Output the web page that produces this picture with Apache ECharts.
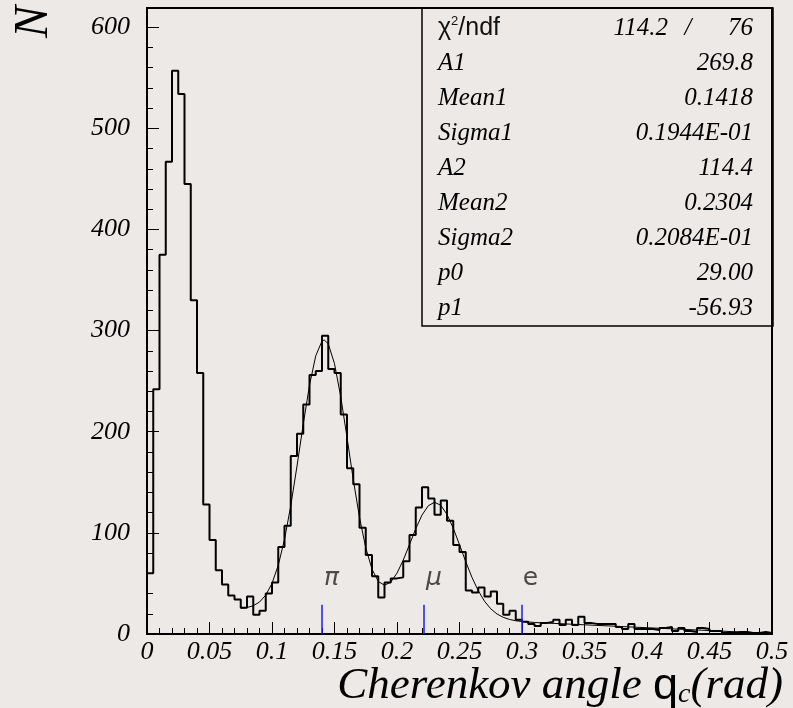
<!DOCTYPE html>
<html><head><meta charset="utf-8">
<script src="https://cdn.jsdelivr.net/npm/echarts@6/dist/echarts.min.js"></script>
<style>html,body{margin:0;padding:0;background:#ede9e7}#c{width:793px;height:708px}</style>
</head><body><div id="c"></div>
<script>
// ---- data ----
const binWidth = 0.005;
const binCounts = [
  60, 242, 375, 467, 557, 534, 445, 330, 258, 128,
  93, 63, 49, 38, 34, 26, 37, 19, 23, 40,
  51, 86, 107, 176, 198, 227, 256, 260, 295, 262,
  258, 217, 164, 148, 105, 78, 57, 36, 51, 55,
  56, 72, 98, 125, 145, 134, 118, 132, 112, 88,
  81, 43, 41, 46, 37, 42, 30, 19, 23, 14,
  12, 10, 8, 11, 12, 14, 9, 14, 9, 17,
  11, 10, 10, 10, 10, 7, 5, 10, 5, 5,
  5, 4, 6, 7, 3, 6, 3, 2, 6, 5,
  3, 3, 1, 1, 2, 2, 1, 1, 2, 1
];
const fitX = [0.075,0.08,0.085,0.09,0.095,0.1,0.105,0.11,0.115,0.12,0.125,0.13,0.135,0.14,0.1418,0.145,0.15,0.155,0.16,0.165,0.17,0.175,0.18,0.185,0.19,0.195,0.2,0.205,0.21,0.215,0.22,0.225,0.23,0.235,0.24,0.245,0.25,0.255,0.26,0.265,0.27,0.275,0.28,0.285,0.29,0.295,0.3,0.31,0.32,0.35,0.4,0.45,0.5];
const fitY = [25.5,26.2,27.9,31.6,38.5,50.0,68.0,93.5,126.8,166.1,207.6,246.0,275.1,289.7,290.7,286.9,267.3,234.6,194.4,152.8,115.3,85.2,64.1,52.0,48.2,51.3,60.2,73.1,88.5,104.1,117.6,126.8,130.3,127.3,118.2,104.6,88.3,71.5,55.9,42.8,32.4,24.9,19.8,16.5,14.4,13.1,12.4,11.4,10.8,9.1,6.2,3.4,0.5];
const markerX = [0.14, 0.221, 0.30];
const markerHeight = 29;
const markerLabels = ['π', 'μ', 'e'];
const markerLabelX = [0.1476, 0.2296, 0.3068];
const markerLabelY = [55, 55, 55];
const xTickLabels = ['0','0.05','0.1','0.15','0.2','0.25','0.3','0.35','0.4','0.45','0.5'];
const yTickLabels = ['0','100','200','300','400','500','600'];
const chi2Value = '114.2';
const ndfValue = '76';
const statNames = ['A1','Mean1','Sigma1','A2','Mean2','Sigma2','p0','p1'];
const statValues = ['269.8','0.1418','0.1944E-01','114.4','0.2304','0.2084E-01','29.00','-56.93'];

// ---- build ----
const histPts = [[0, 0]];
binCounts.forEach((c, i) => histPts.push([i * binWidth, c]));
histPts.push([binCounts.length * binWidth, binCounts[binCounts.length - 1]]);
histPts.push([binCounts.length * binWidth, 0]);
const fitPts = fitX.map((x, i) => [x, fitY[i]]);

const serif = 'Liberation Serif';
const sans = 'Liberation Sans';
const statFont = 'italic 25px "Liberation Serif"';
const tickRich = {t: {fontFamily: serif, fontStyle: 'italic', fontSize: 26, color: '#000'}};

const graphics = [];
graphics.push({type: 'rect', shape: {x: 422, y: 8, width: 351, height: 318},
  style: {fill: 'none', stroke: '#000', lineWidth: 1.5}, z: 10});
const rowY = i => 28 + 35 * i;
graphics.push({type: 'text', x: 438, y: rowY(0), z: 11, style: {
  text: '{s|χ}{sup|2}{s|/ndf}', align: 'left', verticalAlign: 'middle',
  rich: {
    s: {fontFamily: sans, fontSize: 25, fill: '#111', lineHeight: 26, verticalAlign: 'bottom'},
    sup: {fontFamily: sans, fontSize: 13, fill: '#111', lineHeight: 19, verticalAlign: 'top'}
  }}});
graphics.push({type: 'text', x: 668, y: rowY(0), z: 11, style: {text: chi2Value, align: 'right', verticalAlign: 'middle', font: statFont, fill: '#000'}});
graphics.push({type: 'text', x: 688, y: rowY(0), z: 11, style: {text: '/', align: 'center', verticalAlign: 'middle', font: statFont, fill: '#000'}});
graphics.push({type: 'text', x: 753, y: rowY(0), z: 11, style: {text: ndfValue, align: 'right', verticalAlign: 'middle', font: statFont, fill: '#000'}});
statNames.forEach((n, i) => {
  graphics.push({type: 'text', x: 438, y: rowY(i + 1), z: 11, style: {text: n, align: 'left', verticalAlign: 'middle', font: statFont, fill: '#000'}});
  graphics.push({type: 'text', x: 753, y: rowY(i + 1), z: 11, style: {text: statValues[i], align: 'right', verticalAlign: 'middle', font: statFont, fill: '#000'}});
});
// x-axis title
graphics.push({type: 'text', x: 783, y: 657, z: 11, style: {
  text: '{a|Cherenkov angle }{q|q}{c|c}{a|(rad)}', align: 'right', verticalAlign: 'top',
  rich: {
    a: {fontFamily: serif, fontStyle: 'italic', fontSize: 45, fill: '#000', lineHeight: 52, verticalAlign: 'bottom'},
    q: {fontFamily: sans, fontSize: 45, fill: '#000', lineHeight: 52, verticalAlign: 'bottom'},
    c: {fontFamily: serif, fontStyle: 'italic', fontSize: 28, fill: '#000', lineHeight: 14, verticalAlign: 'bottom'}
  }}});
// y-axis title
graphics.push({type: 'text', x: 34, y: 22, rotation: Math.PI / 2, z: 11, style: {
  text: 'N', align: 'center', verticalAlign: 'middle', font: 'italic 48px "Liberation Serif"', fill: '#000'}});

const chart = echarts.init(document.getElementById('c'), null, {renderer: 'canvas'});
chart.setOption({
  backgroundColor: '#ede9e7',
  animation: false,
  grid: {left: 147, right: 21, top: 8, bottom: 74, show: true, borderColor: '#000', borderWidth: 2, backgroundColor: 'transparent', containLabel: false},
  xAxis: {
    type: 'value', min: 0, max: 0.5, interval: 0.05,
    axisLine: {show: true, onZero: false, lineStyle: {color: '#000', width: 2}},
    axisTick: {show: true, inside: true, length: 12, lineStyle: {color: '#000', width: 1}},
    minorTick: {show: true, splitNumber: 5, length: 6, lineStyle: {color: '#000', width: 1}},
    splitLine: {show: false}, minorSplitLine: {show: false},
    axisLabel: {margin: 5, fontFamily: serif, fontStyle: 'italic', fontSize: 26, color: '#000', rich: tickRich,
      formatter: v => '{t|' + xTickLabels[Math.round(v / 0.05)] + '}'}
  },
  yAxis: [
    {
      type: 'value', min: 0, max: 619, interval: 20, position: 'left',
      axisLine: {show: true, onZero: false, lineStyle: {color: '#000', width: 2}},
      axisTick: {show: true, inside: true, length: 6, lineStyle: {color: '#000', width: 1}},
      axisLabel: {show: false}, splitLine: {show: false}
    },
    {
      type: 'value', min: 0, max: 619, interval: 100, position: 'left', offset: 0,
      axisLine: {show: false},
      axisTick: {show: true, inside: true, length: 12, lineStyle: {color: '#000', width: 1}},
      axisLabel: {margin: 17, fontFamily: serif, fontStyle: 'italic', fontSize: 26, color: '#000', rich: tickRich,
        formatter: v => (v % 100 === 0 ? '{t|' + yTickLabels[v / 100] + '}' : '')},
      splitLine: {show: false}
    }
  ],
  series: [
    {
      type: 'line', data: fitPts, symbol: 'none', showSymbol: false, silent: true,
      lineStyle: {color: '#000', width: 1}, z: 3
    },
    {
      type: 'line', data: histPts, step: 'end', symbol: 'none', showSymbol: false, silent: true,
      lineStyle: {color: '#000', width: 2}, z: 4,
      markLine: {
        symbol: ['none', 'none'], silent: true, label: {show: false},
        lineStyle: {color: '#1a1aff', width: 1.5, type: 'solid'},
        data: markerX.map(x => [{coord: [x, 0]}, {coord: [x, markerHeight]}])
      }
    },
    {
      type: 'scatter', symbolSize: 0, silent: true, z: 5,
      data: markerLabelX.map((x, i) => ({value: [x, markerLabelY[i]],
        label: {fontStyle: i < 2 ? 'italic' : 'normal'}})),
      label: {show: true, position: 'inside', formatter: p => markerLabels[p.dataIndex],
        fontFamily: 'DejaVu Sans', fontSize: 25, color: '#222', fontWeight: 'normal'}
    }
  ],
  graphic: graphics
});
</script></body></html>
